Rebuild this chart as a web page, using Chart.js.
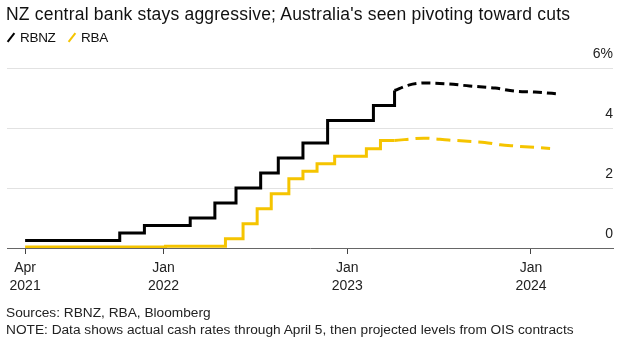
<!DOCTYPE html>
<html>
<head>
<meta charset="utf-8">
<script src="https://cdn.jsdelivr.net/npm/chart.js@4"></script>
<style>
  body { margin: 0; background: #fff; font-family: "Liberation Sans", Arial, sans-serif; color: #111; }
  #wrap { position: relative; width: 634px; height: 343px; }
  canvas { position: absolute; left: 0; top: 0; }
  .title { position: absolute; left: 6px; top: 4px; font-size: 17.5px; letter-spacing: 0.2px; }
  .legend { position: absolute; left: 6px; top: 30px; font-size: 13.5px; letter-spacing: -0.3px; }
  .legend span.item { margin-right: 8px; }
  .legend i { display: inline-block; width: 2px; height: 11px; transform: rotate(38deg); margin: 0 8px -1px 4px; }
  .foot { position: absolute; left: 6px; font-size: 13.7px; color: #222; }
</style>
</head>
<body>
<div id="wrap">
  <canvas id="chart" width="634" height="343"></canvas>
  <div class="title">NZ central bank stays aggressive; Australia's seen pivoting toward cuts</div>
  <div class="legend">
    <span class="item"><i style="background:#000"></i>RBNZ</span>
    <span class="item"><i style="background:#f5c400"></i>RBA</span>
  </div>
  <div class="foot" style="top:305px">Sources: RBNZ, RBA, Bloomberg</div>
  <div class="foot" style="top:322px">NOTE: Data shows actual cash rates through April 5, then projected levels from OIS contracts</div>
</div>
<script>
// actual cash rates (date of change, new level)
const rbnzDates = ['2021-04-01', '2021-10-06', '2021-11-24', '2022-02-23', '2022-04-13', '2022-05-25', '2022-07-13', '2022-08-17', '2022-10-05', '2022-11-23', '2023-02-22', '2023-04-05'];
const rbnzRates = [0.25, 0.5, 0.75, 1.0, 1.5, 2.0, 2.5, 3.0, 3.5, 4.25, 4.75, 5.25];

const rbaDates = ['2021-04-01', '2022-01-05', '2022-05-04', '2022-06-08', '2022-07-06', '2022-08-03', '2022-09-07', '2022-10-05', '2022-11-02', '2022-12-07', '2023-02-08', '2023-03-08', '2023-04-05'];
const rbaRates = [0.03, 0.06, 0.31, 0.81, 1.31, 1.81, 2.31, 2.56, 2.81, 3.06, 3.31, 3.58, 3.58];

// OIS projections after April 5
const rbnzProjDates = ['2023-04-05', '2023-05-03', '2023-06-05', '2023-07-21', '2023-09-01', '2023-10-22', '2023-11-30', '2024-01-09', '2024-02-29'];
const rbnzProj = [5.25, 5.43, 5.5, 5.47, 5.4, 5.33, 5.23, 5.2, 5.13];

const rbaProjDates = ['2023-04-05', '2023-06-02', '2023-07-21', '2023-09-12', '2023-10-01', '2023-11-01', '2023-11-30', '2024-02-08'];
const rbaProj = [3.58, 3.66, 3.6, 3.54, 3.52, 3.44, 3.4, 3.32];

const xTicks = ['2021-04-01', '2022-01-01', '2023-01-01', '2024-01-01'];
const xTickLabels = [['Apr', '2021'], ['Jan', '2022'], ['Jan', '2023'], ['Jan', '2024']];
const yTicks = [0, 2, 4, 6];

const t = s => Date.parse(s + 'T00:00:00Z');
const pts = (dates, vals) => dates.map((d, i) => ({ x: t(d), y: vals[i] }));

const black = '#000000';
const yellow = '#f5c400';

new Chart(document.getElementById('chart'), {
  type: 'line',
  data: {
    datasets: [
      { label: 'RBNZ', data: pts(rbnzDates, rbnzRates), borderColor: black, borderWidth: 3, stepped: true, pointRadius: 0 },
      { label: 'RBA', data: pts(rbaDates, rbaRates), borderColor: yellow, borderWidth: 3, stepped: true, pointRadius: 0 },
      { label: 'RBNZ proj', data: pts(rbnzProjDates, rbnzProj), borderColor: black, borderWidth: 3, borderDash: [9, 5], cubicInterpolationMode: 'monotone', pointRadius: 0 },
      { label: 'RBA proj', data: pts(rbaProjDates, rbaProj), borderColor: yellow, borderWidth: 3, borderDash: [14, 7], cubicInterpolationMode: 'monotone', pointRadius: 0 }
    ]
  },
  options: {
    responsive: false,
    animation: false,
    events: [],
    layout: { padding: { top: 68, left: 7, right: 21, bottom: 45 } },
    plugins: { legend: { display: false }, tooltip: { enabled: false } },
    scales: {
      x: {
        type: 'linear',
        min: t('2021-02-24'),
        max: t('2024-06-12'),
        afterFit: s => { s.height = 50; },
        afterBuildTicks: s => { s.ticks = xTicks.map(d => ({ value: t(d) })); },
        ticks: {
          autoSkip: false,
          maxRotation: 0,
          padding: 5,
          color: '#222',
          font: { family: 'Liberation Sans', size: 14, lineHeight: 1.3 },
          callback: (v, i) => xTickLabels[i]
        },
        grid: { drawOnChartArea: false, drawTicks: true, tickLength: 6, color: '#444' },
        border: { display: true, color: '#666', width: 1 }
      },
      y: {
        position: 'right',
        min: 0,
        max: 6,
        afterFit: s => { s.width = 0; },
        afterBuildTicks: s => { s.ticks = yTicks.map(v => ({ value: v })); },
        ticks: {
          mirror: true,
          padding: 0,
          labelOffset: -14,
          color: '#222',
          font: { family: 'Liberation Sans', size: 14 },
          callback: v => v === 6 ? '6%' : v
        },
        grid: { drawTicks: false, color: c => c.tick && c.tick.value === 0 ? 'rgba(0,0,0,0)' : '#e2e2e2' },
        border: { display: false }
      }
    }
  }
});
</script>
</body>
</html>
